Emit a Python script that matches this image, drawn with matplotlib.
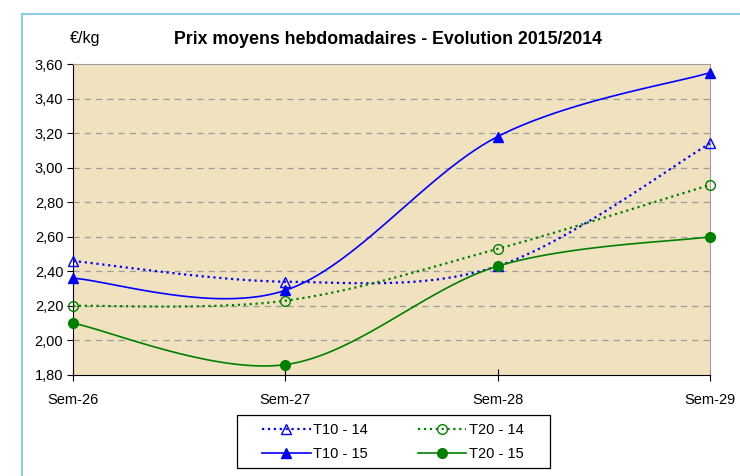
import numpy as np
import matplotlib
matplotlib.use("Agg")
import matplotlib.pyplot as plt
from matplotlib.lines import Line2D
from matplotlib.patches import Rectangle

plt.rcParams['font.family'] = ['Liberation Sans', 'DejaVu Sans']

categories = ["Sem-26", "Sem-27", "Sem-28", "Sem-29"]
t10_14 = [2.46, 2.34, 2.43, 3.14]
t20_14 = [2.20, 2.23, 2.53, 2.90]
t10_15 = [2.36, 2.29, 3.18, 3.55]
t20_15 = [2.10, 1.86, 2.43, 2.60]
yticks = [1.8, 2.0, 2.2, 2.4, 2.6, 2.8, 3.0, 3.2, 3.4, 3.6]


def smooth(xs, ys, n=40):
    pts = np.column_stack([xs, ys]).astype(float)
    ext = np.vstack([pts[0], pts, pts[-1]])
    out = []
    for i in range(len(pts) - 1):
        p0, p1, p2, p3 = ext[i], ext[i + 1], ext[i + 2], ext[i + 3]
        c1 = p1 + (p2 - p0) / 6.0
        c2 = p2 - (p3 - p1) / 6.0
        t = np.linspace(0, 1, n)[:, None]
        seg = ((1 - t) ** 3) * p1 + 3 * ((1 - t) ** 2) * t * c1 + 3 * (1 - t) * t ** 2 * c2 + t ** 3 * p2
        out.append(seg if i == 0 else seg[1:])
    s = np.vstack(out)
    return s[:, 0], s[:, 1]


W, H = 740, 476
fig = plt.figure(figsize=(W / 100, H / 100), dpi=100)
fig.patch.set_facecolor("white")

# light blue frame
fig.add_artist(Line2D([22 / W, 22 / W], [0, 1 - 14 / H], color="#8ECDEB", lw=1.5, transform=fig.transFigure))
fig.add_artist(Line2D([22 / W, 1], [1 - 14 / H, 1 - 14 / H], color="#8ECDEB", lw=1.5, transform=fig.transFigure))

ax = fig.add_axes([73 / W, 1 - 375 / H, (710 - 73) / W, (375 - 64) / H])
ax.set_facecolor("#F0E1BF")

x = np.arange(len(categories))

series = [
    (t10_14, "blue", ":", "^", "none", "T10 - 14"),
    (t20_14, "green", ":", "o", "none", "T20 - 14"),
    (t10_15, "blue", "-", "^", "blue", "T10 - 15"),
    (t20_15, "green", "-", "o", "green", "T20 - 15"),
]
handles = {}
for ys, col, ls, mk, mfc, lab in series:
    sx, sy = smooth(x, ys)
    lw = 1.6 if ls == ":" else 1.2
    ax.plot(sx, sy, color=col, ls=ls, lw=lw, zorder=3, clip_on=False)
    ms = 7
    ax.plot(x, ys, ls="none", marker=mk, ms=ms, mfc=mfc, mec=col, mew=1.0, zorder=4, clip_on=False)
    handles[lab] = Line2D([0], [0], color=col, ls=ls, lw=lw, marker=mk, ms=ms, mfc=mfc, mec=col, label=lab)

ax.set_xlim(0, 3)
ax.set_ylim(1.8, 3.6)
ax.set_yticks(yticks)
ax.set_yticklabels([f"{v:.2f}".replace(".", ",") for v in yticks], fontsize=10.5)
ax.set_xticks(x)
ax.set_xticklabels(categories, fontsize=10.5)
ax.tick_params(axis="x", direction="inout", length=8, pad=9)
ax.tick_params(axis="y", direction="out", length=4, pad=3)

for v in yticks[1:-1]:
    ax.axhline(v, color="#9E9E9E", ls=(0, (5, 4)), lw=0.9, zorder=1)

for s in ["top", "right"]:
    ax.spines[s].set_color("#A0A0A0")
for s in ["left", "bottom"]:
    ax.spines[s].set_color("black")

fig.text(388 / W, 1 - 40 / H, "Prix moyens hebdomadaires - Evolution 2015/2014", ha="center", va="center",
         fontsize=12.8, fontweight="bold")
fig.text(70 / W, 1 - 39 / H, "€/kg", ha="left", va="center", fontsize=11.5)

# legend frame
fig.add_artist(Rectangle((237 / W, 1 - 468 / H), (550 - 237) / W, (468 - 415) / H,
                         transform=fig.transFigure, facecolor="white", edgecolor="black", lw=0.9, zorder=5))
order = ["T10 - 14", "T10 - 15", "T20 - 14", "T20 - 15"]
leg = fig.legend(handles=[handles[k] for k in order], ncol=2, loc="center",
                 bbox_to_anchor=(393 / W, 1 - 442 / H),
                 fontsize=10.5, frameon=False,
                 handlelength=3.3, columnspacing=3.4, handletextpad=0.2, borderpad=0.0, labelspacing=0.65)
leg.set_zorder(6)

fig.savefig("out.png", dpi=100)
